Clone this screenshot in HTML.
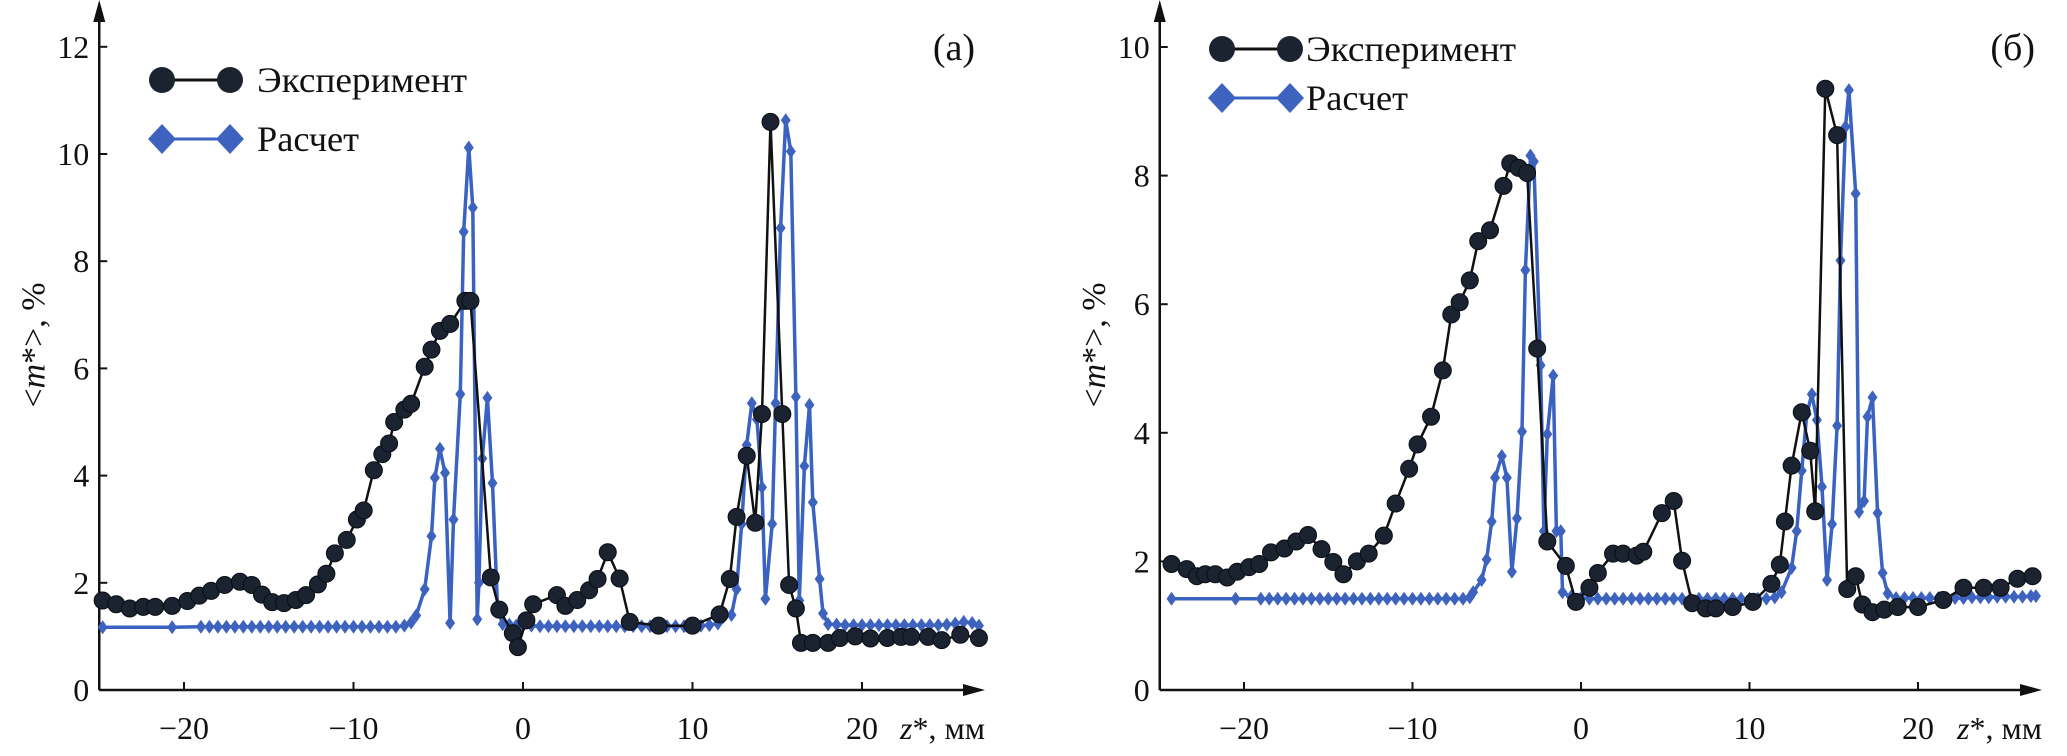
<!DOCTYPE html>
<html><head><meta charset="utf-8">
<style>
html,body{margin:0;padding:0;background:#fff;}
svg{display:block;}
text{font-family:"Liberation Serif","DejaVu Serif",serif;fill:#111;}
</style></head>
<body>
<svg id="chart" width="2067" height="756" viewBox="0 0 2067 756" xmlns="http://www.w3.org/2000/svg"></svg>
<script>
// ---- Panel (a) data ----
const expAX=[-24.8,-24.0,-23.2,-22.4,-21.7,-20.7,-19.8,-19.1,-18.4,-17.6,-16.7,-16.0,-15.4,-14.8,-14.1,-13.4,-12.8,-12.1,-11.6,-11.1,-10.4,-9.8,-9.4,-8.8,-8.3,-7.9,-7.6,-7.0,-6.6,-5.8,-5.4,-4.9,-4.3,-3.4,-3.1,-1.9,-1.4,-0.6,-0.3,0.2,0.6,2.0,2.5,3.2,3.9,4.4,5.0,5.7,6.3,8.0,10.0,11.6,12.2,12.6,13.2,13.7,14.1,14.6,15.3,15.7,16.1,16.4,17.1,18.0,18.7,19.6,20.5,21.5,22.3,22.9,23.9,24.7,25.8,26.9];
const expAY=[1.67,1.6,1.52,1.55,1.55,1.57,1.66,1.76,1.85,1.96,2.02,1.96,1.78,1.64,1.62,1.68,1.77,1.97,2.17,2.55,2.8,3.18,3.35,4.1,4.4,4.6,5.0,5.23,5.34,6.03,6.35,6.7,6.83,7.26,7.26,2.1,1.5,1.06,0.8,1.3,1.6,1.77,1.57,1.68,1.86,2.07,2.57,2.08,1.27,1.2,1.2,1.41,2.07,3.23,4.37,3.12,5.15,10.6,5.15,1.96,1.52,0.88,0.88,0.88,0.97,1.0,0.96,0.97,0.99,0.99,0.99,0.93,1.03,0.97];
const calcAX=[-24.8,-20.7,-19.0,-18.5,-18.0,-17.5,-17.0,-16.5,-16.0,-15.5,-15.0,-14.5,-14.0,-13.5,-13.0,-12.5,-12.0,-11.5,-11.0,-10.5,-10.0,-9.5,-9.0,-8.5,-8.0,-7.5,-7.0,-6.6,-6.3,-5.8,-5.4,-5.2,-4.9,-4.6,-4.3,-4.1,-3.7,-3.5,-3.2,-2.96,-2.7,-2.6,-2.4,-2.1,-1.8,-1.5,-1.2,-0.8,-0.4,0.0,0.5,1.0,1.5,2.0,2.5,3.0,3.5,4.0,4.5,5.0,5.5,6.0,6.5,7.0,7.5,8.0,8.5,9.0,9.5,10.0,10.5,11.0,11.5,11.8,12.3,12.6,12.9,13.2,13.5,13.8,14.1,14.3,14.7,14.9,15.2,15.5,15.8,16.1,16.3,16.6,16.9,17.1,17.5,17.7,18.0,18.5,19.0,19.5,20.0,20.5,21.0,21.5,22.0,22.5,23.0,23.5,24.0,24.5,25.0,25.5,26.0,26.5,26.9];
const calcAY=[1.17,1.17,1.18,1.18,1.18,1.18,1.18,1.18,1.18,1.18,1.18,1.18,1.18,1.18,1.18,1.18,1.18,1.18,1.18,1.18,1.18,1.18,1.18,1.18,1.18,1.18,1.2,1.26,1.39,1.88,2.87,3.96,4.5,4.05,1.25,3.18,5.52,8.55,10.12,9.0,1.32,2.0,4.32,5.45,3.86,1.5,1.23,1.22,1.2,1.2,1.2,1.19,1.19,1.19,1.19,1.19,1.19,1.19,1.19,1.19,1.19,1.19,1.19,1.19,1.19,1.19,1.19,1.19,1.19,1.2,1.2,1.21,1.24,1.36,1.4,1.88,3.1,4.57,5.35,5.05,3.78,1.7,3.1,5.35,8.62,10.63,10.05,5.47,1.67,4.18,5.32,3.5,2.07,1.43,1.23,1.22,1.21,1.21,1.21,1.21,1.21,1.21,1.21,1.21,1.21,1.21,1.21,1.21,1.22,1.24,1.27,1.25,1.2];
const ticksAY=[0,2,4,6,8,10,12];
const ticksX=[-20,-10,0,10,20];

// ---- Panel (b) data ----
const expBX=[-24.3,-23.4,-22.8,-22.3,-21.7,-21.0,-20.4,-19.7,-19.1,-18.4,-17.6,-16.9,-16.2,-15.4,-14.7,-14.1,-13.3,-12.6,-11.7,-11.0,-10.2,-9.7,-8.9,-8.2,-7.7,-7.2,-6.6,-6.1,-5.4,-4.6,-4.2,-3.7,-3.2,-2.6,-2.0,-0.9,-0.3,0.5,1.0,1.9,2.5,3.3,3.7,4.8,5.5,6.0,6.6,7.4,8.0,9.0,10.2,11.3,11.8,12.1,12.5,13.1,13.6,13.9,14.5,15.2,15.8,16.3,16.7,17.3,18.0,18.8,20.0,21.5,22.7,23.9,24.9,25.9,26.8];
const expBY=[1.96,1.88,1.77,1.8,1.8,1.75,1.84,1.91,1.96,2.14,2.2,2.31,2.41,2.19,1.99,1.8,2.0,2.12,2.4,2.9,3.44,3.82,4.25,4.97,5.84,6.03,6.37,6.98,7.15,7.84,8.19,8.12,8.04,5.31,2.31,1.93,1.37,1.59,1.82,2.12,2.12,2.09,2.15,2.75,2.94,2.01,1.35,1.27,1.27,1.29,1.37,1.65,1.95,2.62,3.49,4.32,3.72,2.78,9.35,8.63,1.57,1.77,1.33,1.21,1.25,1.29,1.29,1.4,1.59,1.59,1.59,1.73,1.77];
const calcBX=[-24.3,-20.5,-19.0,-18.5,-18.0,-17.5,-17.0,-16.5,-16.0,-15.5,-15.0,-14.5,-14.0,-13.5,-13.0,-12.5,-12.0,-11.5,-11.0,-10.5,-10.0,-9.5,-9.0,-8.5,-8.0,-7.5,-7.0,-6.6,-6.4,-5.9,-5.6,-5.3,-5.1,-4.7,-4.4,-4.1,-3.8,-3.5,-3.3,-3.0,-2.8,-2.4,-2.2,-2.0,-1.65,-1.46,-1.2,-1.1,-0.6,0.0,0.5,1.0,1.5,2.0,2.5,3.0,3.5,4.0,4.5,5.0,5.5,6.0,6.5,7.0,7.5,8.0,8.5,9.0,9.5,10.0,10.5,11.0,11.5,11.9,12.5,12.8,13.1,13.4,13.7,14.0,14.3,14.6,14.9,15.2,15.4,15.7,15.9,16.3,16.5,16.8,17.0,17.3,17.6,17.9,18.2,18.7,19.2,19.7,20.2,20.7,21.2,21.7,22.2,22.7,23.2,23.7,24.2,24.7,25.2,25.7,26.2,26.7,27.0];
const calcBY=[1.42,1.42,1.42,1.42,1.42,1.42,1.42,1.42,1.42,1.42,1.42,1.42,1.42,1.42,1.42,1.42,1.42,1.42,1.42,1.42,1.42,1.42,1.42,1.42,1.42,1.42,1.42,1.44,1.52,1.71,2.03,2.62,3.3,3.64,3.3,1.84,2.67,4.02,6.53,8.31,8.22,5.05,2.47,3.98,4.89,2.47,2.47,1.52,1.45,1.43,1.42,1.42,1.42,1.42,1.42,1.42,1.42,1.42,1.42,1.42,1.42,1.42,1.42,1.42,1.42,1.42,1.42,1.42,1.42,1.42,1.42,1.42,1.44,1.52,1.9,2.47,3.41,4.29,4.6,4.2,3.16,1.71,2.58,4.11,6.68,8.76,9.33,7.72,2.77,2.94,4.25,4.55,2.75,1.82,1.5,1.43,1.43,1.43,1.43,1.43,1.43,1.43,1.43,1.43,1.44,1.44,1.44,1.45,1.45,1.45,1.45,1.46,1.46];
const ticksBY=[0,2,4,6,8,10];

const NS="http://www.w3.org/2000/svg";
const svg=document.getElementById('chart');
function mk(tag,attrs,parent){const e=document.createElementNS(NS,tag);for(const k in attrs)e.setAttribute(k,attrs[k]);(parent||svg).appendChild(e);return e;}

function panel(p){
  const g=mk('g',{});
  
  
  const sx=v=>p.x0+v*p.kx, sy=v=>p.y0-v*p.ky;
  const xL=sx(-25);
  const ya=mk('path',{d:`M${xL} ${p.y0} V14`,stroke:'#111','stroke-width':2.5,fill:'none'},g);
  
  mk('path',{d:`M${xL-6} 22 L${xL} 0 L${xL+6} 22 Z`,fill:'#111'},g);
  const xa=mk('path',{d:`M${xL} ${p.y0} H${p.xEnd-16}`,stroke:'#111','stroke-width':2.5,fill:'none'},g);
  
  mk('path',{d:`M${p.xEnd-22} ${p.y0-6} L${p.xEnd} ${p.y0} L${p.xEnd-22} ${p.y0+6} Z`,fill:'#111'},g);
  p.yt.forEach(v=>{
    mk('line',{x1:xL,x2:xL+8,y1:sy(v),y2:sy(v),stroke:'#111','stroke-width':2},g);
    const t=mk('text',{x:xL-10,y:sy(v)+11,'text-anchor':'end','font-size':32},g);
    t.textContent=String(v);
    
  });
  ticksX.forEach(v=>{
    mk('line',{x1:sx(v),x2:sx(v),y1:p.y0,y2:p.y0-8,stroke:'#111','stroke-width':2},g);
    const t=mk('text',{x:sx(v),y:739,'text-anchor':'middle','font-size':32},g);
    t.textContent=(v<0?'\u2212':'')+Math.abs(v);
    
  });
  const xt=mk('text',{x:p.xEnd-85,y:739,'font-size':32},g);
  xt.innerHTML='<tspan font-style="italic">z</tspan>*, мм';
  
  const ytt=mk('text',{transform:`translate(${xL-55},${345}) rotate(-90)`,'text-anchor':'middle','font-size':34},g);
  ytt.innerHTML='&lt;<tspan font-style="italic">m</tspan>*&gt;, %';
  
  const pl=mk('text',{x:p.lblX,y:60,'font-size':38,'text-anchor':'end'},g);
  pl.textContent=p.lbl;
  
  const cg=mk('g',{},g);
  
  const cpts=p.cx.map((x,i)=>`${sx(x).toFixed(1)},${sy(p.cy[i]).toFixed(1)}`).join(' ');
  const eg=mk('g',{},g);
  
  const epts=p.ex.map((x,i)=>`${sx(x).toFixed(1)},${sy(p.ey[i]).toFixed(1)}`).join(' ');
  mk('polyline',{points:epts,fill:'none',stroke:'#111','stroke-width':2.5},eg);
  p.ex.forEach((x,i)=>{
    const c=mk('circle',{cx:sx(x),cy:sy(p.ey[i]),r:8.5,fill:'#1b2230',stroke:'#0a0d14','stroke-width':1},eg);
    
  });
  mk('polyline',{points:cpts,fill:'none',stroke:'#3a62c0','stroke-width':3.5},cg);
  p.cx.forEach((x,i)=>{
    const X=sx(x),Y=sy(p.cy[i]);
    const d=mk('path',{d:`M${X} ${Y-7} L${X+5} ${Y} L${X} ${Y+7} L${X-5} ${Y} Z`,fill:'#3e63bf'},cg);
    
  });
  const lg=mk('g',{},g);
  
  const L=p.leg;
  const e1=mk('g',{},lg);
  mk('line',{x1:L.x+12,x2:L.x+80,y1:L.y1,y2:L.y1,stroke:'#111','stroke-width':3},e1);
  mk('circle',{cx:L.x+12,cy:L.y1,r:13,fill:'#1b2230'},e1);
  mk('circle',{cx:L.x+80,cy:L.y1,r:13,fill:'#1b2230'},e1);
  const t1=mk('text',{x:L.tx,y:L.y1+12,'font-size':36,textLength:210,lengthAdjust:'spacingAndGlyphs'},e1);t1.textContent='Эксперимент';
  const e2=mk('g',{},lg);
  mk('line',{x1:L.x+12,x2:L.x+80,y1:L.y2,y2:L.y2,stroke:'#3a62c0','stroke-width':3},e2);
  [L.x+12,L.x+80].forEach(cx=>mk('path',{d:`M${cx} ${L.y2-15} L${cx+14} ${L.y2} L${cx} ${L.y2+15} L${cx-14} ${L.y2} Z`,fill:'#3e63bf'},e2));
  const t2=mk('text',{x:L.tx,y:L.y2+12,'font-size':36,textLength:102,lengthAdjust:'spacingAndGlyphs'},e2);t2.textContent='Расчет';
}

panel({name:'panel-a',x0:523,kx:16.95,y0:690,ky:53.6,xEnd:985,yt:ticksAY,ex:expAX,ey:expAY,cx:calcAX,cy:calcAY,lbl:'(a)',lblX:975,leg:{x:150,y1:80,y2:139,tx:257}});
panel({name:'panel-b',x0:1581,kx:16.85,y0:690,ky:64.3,xEnd:2042,yt:ticksBY,ex:expBX,ey:expBY,cx:calcBX,cy:calcBY,lbl:'(б)',lblX:2035,leg:{x:1210,y1:49,y2:98,tx:1306}});
</script>
</body></html>
